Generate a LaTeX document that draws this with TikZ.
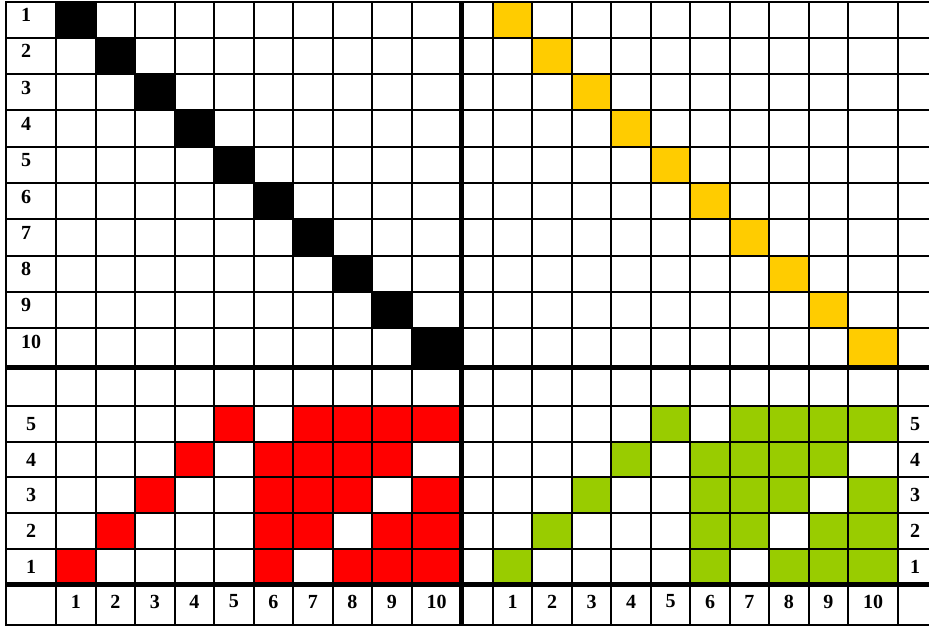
\documentclass[tikz,border=0pt]{standalone}
\usepackage{fontspec}
\setmainfont{Liberation Serif}
\definecolor{cellred}{HTML}{FF0000}
\definecolor{cellgreen}{HTML}{99CC00}
\definecolor{cellyellow}{HTML}{FFCC00}

\begin{document}
\begin{tikzpicture}[x=1pt, y=-1pt,
    thinrule/.style={line width=2pt},
    thickrule/.style={line width=5pt},
    numlabel/.style={font=\fontsize{20}{20}\selectfont\bfseries, inner sep=0pt}]
    \useasboundingbox (0,0) rectangle (929,627);
    \fill[white] (0,0) rectangle (929,627);
    % ==== TOP LEFT: BLACK DIAGONAL ====
    \foreach \k in {1,...,10} {
        \pgfmathsetmacro\xa{56+(\k-1)*39.5}
        \pgfmathsetmacro\xb{\k==10 ? 461.7 : 56+\k*39.5}
        \pgfmathsetmacro\ya{1.5+(\k-1)*36.3}
        \pgfmathsetmacro\yb{\k==10 ? 367 : 1.5+\k*36.3}
        \fill[black] (\xa,\ya) rectangle (\xb,\yb);
    }
    % ==== TOP RIGHT: YELLOW DIAGONAL ====
    \foreach \k in {1,...,10} {
        \pgfmathsetmacro\xa{493+(\k-1)*39.46}
        \pgfmathsetmacro\xb{\k==10 ? 898 : 493+\k*39.46}
        \pgfmathsetmacro\ya{1.5+(\k-1)*36.3}
        \pgfmathsetmacro\yb{\k==10 ? 367 : 1.5+\k*36.3}
        \fill[cellyellow] (\xa,\ya) rectangle (\xb,\yb);
    }
    % ==== BOTTOM: RED AND GREEN CELLS ====
    \foreach \r/\cols in {5/{5,7,8,9,10}, 4/{4,6,7,8,9}, 3/{3,6,7,8,10},
                          2/{2,6,7,9,10}, 1/{1,6,8,9,10}} {
        \pgfmathsetmacro\ya{406+(5-\r)*35.7}
        \pgfmathsetmacro\yb{406+(6-\r)*35.7}
        \foreach \c in \cols {
            \pgfmathsetmacro\xa{56+(\c-1)*39.5}
            \pgfmathsetmacro\xb{\c==10 ? 461.7 : 56+\c*39.5}
            \fill[cellred] (\xa,\ya) rectangle (\xb,\yb);
            \pgfmathsetmacro\xc{493+(\c-1)*39.46}
            \pgfmathsetmacro\xd{\c==10 ? 898 : 493+\c*39.46}
            \fill[cellgreen] (\xc,\ya) rectangle (\xd,\yb);
        }
    }
    % ==== GRID ====
    \draw[thinrule] (6,1.5) rectangle (940,625);
    \foreach \k in {0,...,9} {
        \draw[thinrule] ({56+\k*39.5},1.5) -- ({56+\k*39.5},625);
        \draw[thinrule] ({493+\k*39.46},1.5) -- ({493+\k*39.46},625);
    }
    \draw[thinrule] (898,1.5) -- (898,625);
    \foreach \k in {1,...,9}
        \draw[thinrule] (6,{1.5+\k*36.3}) -- (940,{1.5+\k*36.3});
    \foreach \k in {0,...,4}
        \draw[thinrule] (6,{406+\k*35.7}) -- (940,{406+\k*35.7});
    \draw[thickrule] (461.7,1.5) -- (461.7,625);
    \draw[thickrule] (6,367) -- (940,367);
    \draw[thickrule] (6,584.5) -- (940,584.5);
    % ==== LABELS ====
    \foreach \k in {1,...,10}
        \node[numlabel, anchor=base west] (tl\k) at (21,{21.5+(\k-1)*36.3}) {\k};
    \foreach \r in {1,...,5} {
        \node[numlabel] (bl\r) at (31,{406+(5.5-\r)*35.7}) {\r};
        \node[numlabel] (br\r) at (915,{406+(5.5-\r)*35.7}) {\r};
    }
    \foreach \c in {1,...,10} {
        \node[numlabel] (cl\c) at ({\c==10 ? 436.6 : 56+(\c-0.5)*39.5},601.5) {\c};
        \node[numlabel] (cr\c) at ({\c==10 ? 873 : 493+(\c-0.5)*39.46},601.5) {\c};
    }
\end{tikzpicture}
\end{document}
